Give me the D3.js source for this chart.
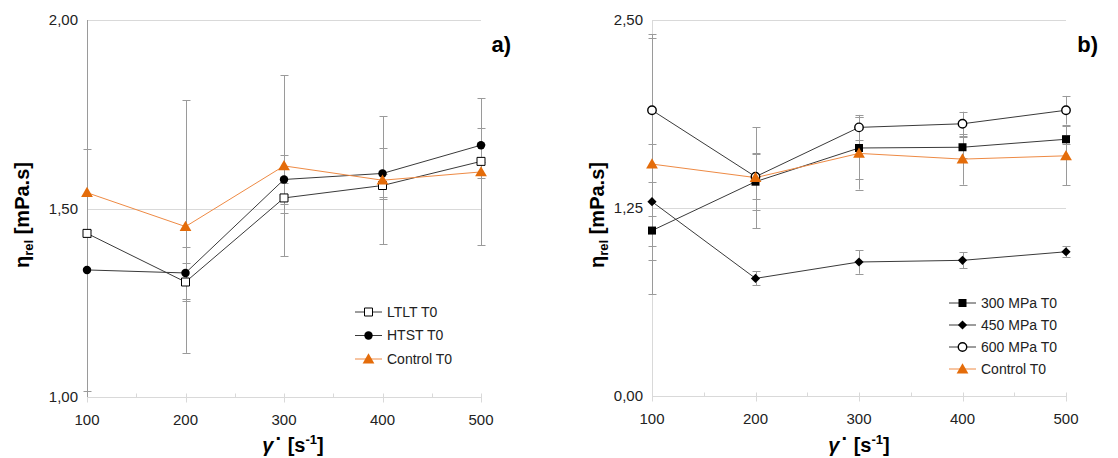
<!DOCTYPE html>
<html>
<head>
<meta charset="utf-8">
<script src="https://cdn.jsdelivr.net/npm/d3@7"></script>
<style>
  html, body { margin: 0; padding: 0; background: #fff; }
  svg { display: block; font-family: "Liberation Sans", Arial, sans-serif; }
</style>
</head>
<body>
<svg id="chart" width="1118" height="458"></svg>
<script>
// Shear rates (s^-1)
const shearRates = [100, 200, 300, 400, 500];

// Relative viscosity, panel a)
const ltltT0 = [1.434, 1.305, 1.528, 1.561, 1.625];
const ltltErr = [0.01, 0.05, 0.04, 0.03, 0.045];
const htstT0 = [1.337, 1.329, 1.577, 1.593, 1.668];
const htstErr = [0.32, 0.07, 0.065, 0.067, 0.045];

// Untreated control (both panels)
const controlT0 = [1.542, 1.452, 1.613, 1.575, 1.597];
const controlErr = [0.865, 0.335, 0.24, 0.17, 0.195];

// Relative viscosity, panel b)
const mpa300T0 = [1.10, 1.425, 1.649, 1.654, 1.707];
const mpa300Err = [0.10, 0.19, 0.203, 0.07, 0.03];
const mpa450T0 = [1.292, 0.782, 0.891, 0.902, 0.959];
const mpa450Err = [0.385, 0.047, 0.078, 0.053, 0.038];
const mpa600T0 = [1.90, 1.458, 1.786, 1.81, 1.90];
const mpa600Err = [0.48, 0.151, 0.083, 0.08, 0.095];

// Axis ticks
const xTicks = [100, 200, 300, 400, 500];
const xMinorTicks = [150, 250, 350, 450];
const yTicksA = [1.0, 1.5, 2.0];
const yTicksB = [0.0, 1.25, 2.5];

const ORANGE = "#E46C0A";
const ORANGE_LINE = "#EE8A44";
const DARK = "#3a3a3a";
const GRID = "#d9d9d9";
const ERR = "#9a9a9a";

const commaFmt = d3.formatLocale({decimal: ",", thousands: ".", grouping: [3], currency: ["", ""]}).format(".2f");

const svg = d3.select("#chart");

function buildSeries(names, values, errs, shapes) {
  return names.map((name, i) => ({
    name, shape: shapes[i],
    points: shearRates.map((x, j) => ({x, y: values[i][j], e: errs[i][j]}))
  }));
}

// rotated square for the diamond marker
const diamondPath = "M0,-4.6L4.6,0L0,4.6L-4.6,0Z";

function markerPath(shape) {
  switch (shape) {
    case "square": return d3.symbol(d3.symbolSquare, 64)();
    case "circle": return d3.symbol(d3.symbolCircle, 56)();
    case "diamond": return diamondPath;
    case "triangle": return d3.symbol(d3.symbolTriangle, 60)();
  }
}

function markerStyle(sel, shape) {
  if (shape === "triangle") sel.attr("fill", ORANGE).attr("stroke", "none");
  else if (shape === "square-open" ) sel.attr("fill", "#fff").attr("stroke", "#000").attr("stroke-width", 1);
  else if (shape === "circle-open") sel.attr("fill", "#fff").attr("stroke", "#000").attr("stroke-width", 1.4);
  else sel.attr("fill", "#000").attr("stroke", "none");
}

function baseShape(shape) { return shape.replace("-open", ""); }

function drawPanel(cfg) {
  const {id, x0, x1, y0, y1, yDomain, yTicks, series, label, legend} = cfg;
  const g = svg.append("g").attr("class", "panel-" + id);
  const x = d3.scaleLinear().domain([100, 500]).range([x0, x1]);
  const y = d3.scaleLinear().domain(yDomain).range([y1, y0]);

  // clip for error bars
  svg.append("clipPath").attr("id", "clip-" + id)
    .append("rect").attr("x", x0 - 10).attr("y", y0).attr("width", x1 - x0 + 20).attr("height", y1 - y0);

  // horizontal gridlines
  g.append("g").selectAll("line").data(yTicks.slice(1)).join("line")
    .attr("x1", x0).attr("x2", x1)
    .attr("y1", d => Math.round(y(d)) + 0.5).attr("y2", d => Math.round(y(d)) + 0.5)
    .attr("stroke", GRID).attr("stroke-width", 1);

  // y axis line
  g.append("line").attr("x1", x0 + 0.5).attr("x2", x0 + 0.5).attr("y1", y0).attr("y2", y1)
    .attr("stroke", GRID);

  // y tick labels
  g.append("g").selectAll("text").data(yTicks).join("text")
    .attr("x", x0 - 9).attr("y", d => y(d)).attr("dy", "0.35em")
    .attr("text-anchor", "end").attr("font-size", 15).attr("fill", "#222")
    .text(d => commaFmt(d));

  // x axis
  const xa = g.append("g").attr("transform", `translate(0,${Math.round(y1) + 0.5})`);
  xa.append("line").attr("x1", x0).attr("x2", x1).attr("stroke", GRID);
  xa.selectAll("line.major").data(xTicks).join("line").attr("class", "major")
    .attr("x1", d => Math.round(x(d)) + 0.5).attr("x2", d => Math.round(x(d)) + 0.5)
    .attr("y1", -4).attr("y2", 5).attr("stroke", GRID);
  xa.selectAll("line.minor").data(xMinorTicks).join("line").attr("class", "minor")
    .attr("x1", d => Math.round(x(d)) + 0.5).attr("x2", d => Math.round(x(d)) + 0.5)
    .attr("y1", -4).attr("y2", 0).attr("stroke", GRID);
  xa.selectAll("text").data(xTicks).join("text")
    .attr("x", d => x(d)).attr("y", 22).attr("dy", "0.35em")
    .attr("text-anchor", "middle").attr("font-size", 15).attr("fill", "#222")
    .text(d => d);

  // error bars
  const eg = g.append("g").attr("clip-path", `url(#clip-${id})`);
  series.forEach(s => {
    s.points.forEach(p => {
      const cx = Math.round(x(p.x)) + 0.5;
      const yt = y(p.y + p.e), yb = y(p.y - p.e);
      eg.append("line").attr("x1", cx).attr("x2", cx).attr("y1", yt).attr("y2", yb)
        .attr("stroke", ERR).attr("stroke-width", 1);
      [yt, yb].forEach(yy => {
        eg.append("line").attr("x1", cx - 4).attr("x2", cx + 4)
          .attr("y1", Math.round(yy) + 0.5).attr("y2", Math.round(yy) + 0.5)
          .attr("stroke", ERR).attr("stroke-width", 1);
      });
    });
  });

  // lines
  const line = d3.line().x(d => x(d.x)).y(d => y(d.y));
  series.forEach(s => {
    g.append("path").datum(s.points).attr("d", line).attr("fill", "none")
      .attr("stroke", s.shape === "triangle" ? ORANGE_LINE : DARK).attr("stroke-width", 1);
  });

  // markers
  series.forEach(s => {
    g.append("g").selectAll("path").data(s.points).join("path")
      .attr("d", markerPath(baseShape(s.shape)))
      .attr("transform", d => `translate(${x(d.x)},${y(d.y) + (s.shape === "triangle" ? 1 : 0)})`)
      .call(sel => markerStyle(sel, s.shape));
  });

  // legend
  const lg = g.append("g");
  series.forEach((s, i) => {
    const ly = legend.y + i * legend.dy;
    lg.append("line").attr("x1", legend.x).attr("x2", legend.x + 27)
      .attr("y1", ly).attr("y2", ly)
      .attr("stroke", s.shape === "triangle" ? ORANGE_LINE : DARK).attr("stroke-width", 1);
    lg.append("path").attr("d", markerPath(baseShape(s.shape)))
      .attr("transform", `translate(${legend.x + 13.5},${ly + (s.shape === "triangle" ? 1 : 0)})`)
      .call(sel => markerStyle(sel, s.shape));
    lg.append("text").attr("x", legend.x + 32).attr("y", ly).attr("dy", "0.35em")
      .attr("font-size", 14).attr("fill", "#222").text(s.name);
  });

  // panel label
  g.append("text").attr("x", label.x).attr("y", label.y).attr("text-anchor", "end")
    .attr("font-size", 22).attr("font-weight", "bold").attr("fill", "#000").text(label.text);

  // y axis title
  const yt = g.append("text")
    .attr("transform", `translate(${cfg.yTitleX},215) rotate(-90)`)
    .attr("text-anchor", "middle").attr("font-size", 20).attr("font-weight", "bold").attr("fill", "#000");
  yt.append("tspan").text("η");
  yt.append("tspan").attr("font-size", 13).attr("dy", 4).text("rel");
  yt.append("tspan").attr("dy", -4).text(" [mPa.s]");

  // x axis title: shear rate, gamma with an overdot
  const xt = g.append("text")
    .attr("x", (x0 + x1) / 2 + cfg.xTitleShift).attr("y", 452)
    .attr("text-anchor", "middle").attr("font-size", 20).attr("font-weight", "bold").attr("fill", "#000");
  xt.append("tspan").attr("font-style", "italic").text("γ");
  xt.append("tspan").attr("dx", 2).attr("dy", -7).text("·");
  xt.append("tspan").attr("dy", 7).text(" [s");
  xt.append("tspan").attr("dy", -8).attr("font-size", 13).text("-1");
  xt.append("tspan").attr("dy", 8).text("]");
}

drawPanel({
  id: "a", x0: 87, x1: 481, y0: 20, y1: 397, yDomain: [1, 2], yTicks: yTicksA,
  series: buildSeries(["LTLT T0", "HTST T0", "Control T0"],
                      [ltltT0, htstT0, controlT0], [ltltErr, htstErr, controlErr],
                      ["square-open", "circle", "triangle"]),
  label: {x: 511, y: 52, text: "a)"},
  legend: {x: 355, y: 312, dy: 23.5},
  yTitleX: 29, xTitleShift: 9
});

drawPanel({
  id: "b", x0: 652, x1: 1066, y0: 20, y1: 396, yDomain: [0, 2.5], yTicks: yTicksB,
  series: buildSeries(["300 MPa T0", "450 MPa T0", "600 MPa T0", "Control T0"],
                      [mpa300T0, mpa450T0, mpa600T0, controlT0],
                      [mpa300Err, mpa450Err, mpa600Err, controlErr],
                      ["square", "diamond", "circle-open", "triangle"]),
  label: {x: 1098, y: 52, text: "b)"},
  legend: {x: 949, y: 303, dy: 22},
  yTitleX: 604, xTitleShift: 0
});
</script>
</body>
</html>
